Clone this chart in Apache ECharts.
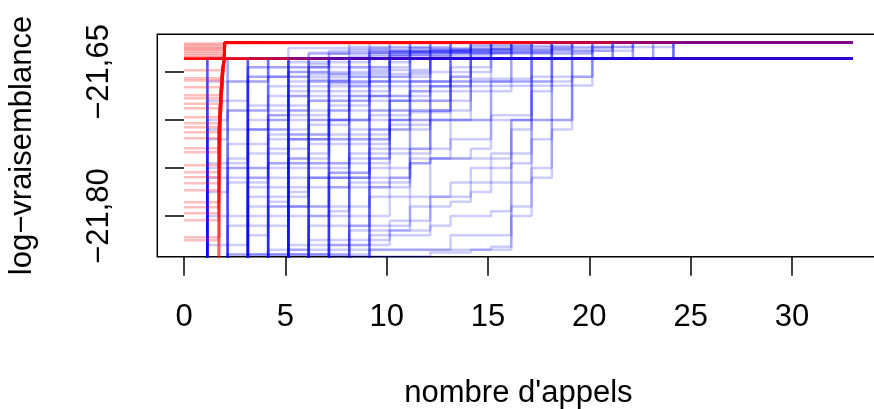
<!DOCTYPE html>
<html><head><meta charset="utf-8">
<script src="https://cdn.jsdelivr.net/npm/echarts@6/dist/echarts.min.js"></script>
<style>html,body{margin:0;padding:0;background:#fff}#c{width:874px;height:409px}</style>
</head><body><div id="c"></div>
<script>
// ---------- data ----------
const TOP = -21.6194;    // global optimum
const LOC = -21.6363;    // local optimum
const RSTUCK = -21.6363; // red runs that stay at the local optimum
const OFF = -22.5;       // starting value below the visible range
const lastCall = 33;
const stepShift = 0.15;
const xTickValues = [0, 5, 10, 15, 20, 25, 30];
const yTickValues = [-21.80, -21.75, -21.70, -21.65];
const yLabelValues = [-21.80, -21.65];

// red runs: [initial value, call where it leaves (null = stays), climbing path]
const S = [RSTUCK, null, null];
const redRuns = [
  S,[-21.6205,1.97,'A'],[-21.7293,1.77,'B'],[-21.6565,1.86,'A'],[-21.7855,1.76,'B'],
  [-21.6220,1.97,'A'],S,[-21.6971,1.80,'B'],[-21.9000,1.70,'A'],[-21.6742,1.85,'B'],
  [-21.8043,1.70,'A'],[-21.6240,1.99,'B'],S,[-21.7127,1.72,'A'],[-21.6482,1.93,'B'],
  [-21.7595,1.71,'A'],[-21.6255,1.99,'B'],[-21.6877,1.76,'A'],S,[-22.0000,1.76,'B'],
  [-21.7335,1.71,'A'],[-21.6659,1.88,'B'],[-21.6270,1.97,'A'],S,[-21.8220,1.76,'B'],
  [-21.7033,1.73,'A'],[-21.7470,1.77,'B'],[-21.6290,1.97,'A'],S,[-21.6773,1.84,'B'],
  [-21.7907,1.70,'A'],[-21.7190,1.78,'B'],S,[-22.1000,1.70,'A'],[-21.6310,1.99,'B'],
  [-21.7543,1.71,'A'],[-21.6590,1.90,'B'],S,[-21.7970,1.70,'A'],[-21.6330,1.99,'B'],
  [-21.7075,1.73,'A'],[-21.7658,1.76,'B'],S,[-21.8251,1.70,'A'],[-21.6350,1.99,'B'],
  [-21.6830,1.77,'A'],[-21.7731,1.76,'B'],[-22.3000,1.70,'A'],[-21.6362,1.99,'B']
];
// paths of the red runs climbing to the optimum
const redRisers = {
  A: [[1.70,-21.90],[1.72,-21.71],[1.80,-21.676],[1.89,-21.648],[1.97,-21.637],[2.00,TOP]],
  B: [[1.76,-21.90],[1.78,-21.71],[1.85,-21.676],[1.93,-21.648],[1.99,-21.637],[2.02,TOP]]
};

// blue runs: [call, best value] change points
const blueRuns = [
  [[1,LOC]],
  [[1,LOC],[14,-21.630],[20,TOP]],
  [[1,-21.66],[2,LOC],[9,TOP]],
  [[1,-21.70],[2,-21.66],[4,LOC],[11,TOP]],
  [[1,-21.745],[3,-21.69],[4,-21.655],[6,LOC],[15,TOP]],
  [[1,-21.80],[2,-21.75],[4,-21.70],[5,-21.64],[9,-21.628],[13,TOP]],
  [[1,-21.83],[3,-21.78],[6,-21.72],[7,-21.66],[8,LOC]],
  [[1,LOC],[5,-21.625],[8,TOP]],
  [[1,-21.68],[3,-21.645],[7,LOC],[16,TOP]],
  [[1,-21.72],[2,-21.69],[5,-21.65],[10,-21.632],[12,TOP]],
  [[1,LOC],[6,-21.631],[8,-21.626],[10,TOP]],
  [[1,LOC],[9,-21.63],[11,TOP]],
  [[1,-21.775],[2,-21.74],[3,-21.71],[5,-21.675],[6,-21.645],[7,LOC],[13,TOP]],
  [[1,-21.76],[4,-21.745],[10,-21.735],[12,-21.70],[13,-21.68],[14,-21.657],[17,LOC],[23,TOP]],
  [[1,-21.75],[5,-21.72],[10,-21.66],[12,LOC],[18,TOP]],
  [[1,-21.71],[6,-21.675],[12,-21.66],[17,-21.655],[20,LOC],[24,TOP]],
  [[2,-21.765],[4,-21.73],[6,-21.68],[8,LOC],[17,TOP]],
  [[2,LOC],[10,-21.633],[13,-21.627],[15,TOP]],
  [[2,-21.69],[3,-21.655],[9,LOC]],
  [[2,-21.725],[4,-21.695],[5,-21.66],[7,LOC],[15,TOP]],
  [[2,-21.84],[6,-21.80],[10,LOC],[19,TOP]],
  [[2,-21.81],[5,-21.79],[9,-21.75],[11,-21.69],[13,-21.65],[14,LOC]],
  [[2,-21.66],[4,-21.645],[6,LOC],[14,TOP]],
  [[2,-21.80],[5,-21.77],[10,-21.76],[11,-21.692],[13,-21.66],[15,LOC],[20,TOP]],
  [[2,-21.84],[8,-21.835],[15,-21.832],[16,-21.80],[17,-21.76],[18,-21.71],[19,LOC],[24,TOP]],
  [[3,LOC]],
  [[3,LOC],[7,-21.628],[15,TOP]],
  [[3,-21.655],[5,LOC],[10,-21.63],[13,TOP]],
  [[3,-21.71],[4,-21.675],[6,-21.645],[10,LOC]],
  [[3,-21.77],[5,-21.74],[7,-21.70],[9,-21.66],[11,LOC],[18,TOP]],
  [[3,-21.82],[4,-21.79],[7,-21.755],[9,-21.71],[11,-21.67],[12,LOC],[21,TOP]],
  [[3,-21.685],[6,-21.652],[8,LOC],[12,-21.627],[16,TOP]],
  [[3,LOC],[11,-21.625],[17,TOP]],
  [[3,-21.735],[5,-21.69],[6,-21.66],[9,LOC]],
  [[3,-21.76],[4,-21.715],[6,-21.69],[8,-21.66],[10,-21.64],[11,LOC]],
  [[3,-21.645],[4,LOC],[12,TOP]],
  [[3,LOC],[8,-21.634],[11,-21.629],[14,-21.623],[19,TOP]],
  [[3,LOC],[6,-21.63],[10,TOP]],
  [[3,-21.79],[6,-21.76],[11,-21.745],[12,-21.74],[14,-21.73],[15,-21.695],[17,LOC]],
  [[3,-21.84],[7,-21.83],[10,-21.815],[12,-21.78],[14,-21.775],[15,-21.74],[16,-21.70],[17,-21.66],[19,LOC]],
  [[3,-21.70],[8,-21.665],[13,-21.664],[19,-21.655],[20,LOC]],
  [[4,LOC],[7,-21.631],[9,-21.625],[12,TOP]],
  [[4,-21.665],[6,-21.642],[7,LOC],[14,TOP]],
  [[4,-21.72],[6,-21.70],[8,-21.655],[10,LOC],[15,-21.627],[19,TOP]],
  [[4,-21.785],[5,-21.75],[8,-21.715],[10,-21.68],[12,-21.65],[13,LOC]],
  [[4,LOC],[9,-21.63],[14,TOP]],
  [[4,-21.745],[6,-21.725],[7,-21.68],[9,-21.66],[10,LOC],[16,TOP]],
  [[4,-21.695],[7,-21.66],[8,LOC],[18,TOP]],
  [[4,-21.835],[8,-21.815],[11,-21.78],[12,-21.74],[15,-21.735],[16,-21.70],[17,-21.66],[18,LOC]],
  [[4,-21.76],[9,-21.73],[13,-21.72],[15,-21.66],[17,LOC],[21,TOP]],
  [[5,LOC]],
  [[5,LOC],[13,-21.628],[21,TOP]],
  [[5,-21.65],[7,LOC],[11,TOP]],
  [[5,-21.69],[6,-21.665],[9,LOC]],
  [[5,-21.74],[6,-21.715],[8,-21.68],[11,-21.648],[12,LOC],[20,TOP]],
  [[5,-21.80],[7,-21.77],[8,-21.735],[10,-21.70],[12,-21.665],[14,LOC]],
  [[5,-21.775],[6,-21.745],[8,-21.71],[9,-21.69],[11,-21.66],[13,LOC]],
  [[5,-21.835],[6,-21.81],[9,-21.78],[11,-21.74],[13,-21.70],[15,-21.66],[16,LOC],[22,TOP]],
  [[5,LOC],[8,-21.624],[13,TOP]],
  [[5,-21.67],[8,-21.645],[10,LOC],[17,TOP]],
  [[5,-21.715],[7,-21.685],[9,-21.655],[11,LOC],[20,TOP]],
  [[5,LOC],[9,-21.632],[12,-21.630],[16,-21.624],[22,TOP]],
  [[5,LOC],[11,-21.63],[14,TOP]],
  [[5,-21.83],[9,-21.82],[12,-21.81],[13,-21.80],[15,-21.795],[16,-21.765],[17,-21.72],[18,LOC],[24,TOP]],
  [[5,-21.72],[10,-21.70],[19,LOC]],
  [[6,LOC],[10,-21.628],[14,-21.622],[17,TOP]],
  [[6,-21.658],[8,LOC],[15,TOP]],
  [[6,-21.705],[8,-21.67],[10,-21.645],[11,LOC]],
  [[6,-21.76],[9,-21.725],[10,-21.69],[13,-21.655],[14,LOC],[19,TOP]],
  [[6,-21.735],[7,-21.70],[9,-21.675],[11,-21.65],[12,LOC],[18,TOP]],
  [[6,LOC],[12,-21.626],[16,TOP]],
  [[6,-21.68],[7,-21.652],[12,LOC]],
  [[6,-21.825],[10,-21.805],[11,-21.79],[13,-21.785],[14,-21.75],[16,-21.71],[17,-21.67],[18,LOC],[24,TOP]],
  [[6,-21.84],[9,-21.835],[13,-21.82],[16,-21.745],[17,LOC],[22,TOP]],
  [[7,LOC],[12,-21.633],[15,-21.626],[19,TOP]],
  [[7,-21.662],[9,LOC]],
  [[7,-21.725],[9,-21.695],[11,-21.66],[13,LOC],[18,TOP]],
  [[7,-21.795],[8,-21.765],[11,-21.73],[12,-21.69],[14,-21.65],[15,LOC]],
  [[7,-21.755],[9,-21.74],[10,-21.71],[12,-21.68],[13,-21.655],[14,LOC]],
  [[7,LOC],[10,-21.629],[18,TOP]],
  [[7,-21.69],[10,-21.655],[12,LOC],[16,TOP]],
  [[7,-21.842],[12,-21.838],[14,-21.835],[16,-21.79],[17,-21.75],[18,LOC]],
  [[8,LOC],[13,-21.630],[18,-21.625],[21,TOP]],
  [[8,-21.675],[10,LOC]],
  [[8,-21.74],[10,-21.705],[12,-21.665],[13,LOC],[19,-21.628],[22,TOP]],
  [[8,-21.81],[11,-21.805],[12,-21.78],[13,-21.765],[16,-21.735],[17,-21.70],[19,-21.664],[20,LOC],[23,TOP]],
  [[8,-21.70],[11,-21.67],[14,LOC]],
  [[9,LOC],[14,-21.631],[20,-21.624],[24,TOP]],
  [[9,-21.648],[11,LOC],[17,TOP]],
  [[9,-21.71],[10,-21.68],[13,-21.645],[15,LOC]],
  [[9,-21.77],[11,-21.745],[12,-21.70],[14,-21.67],[16,LOC],[21,TOP]]
];

// ---------- build ----------
const FONT = "'Liberation Sans', Arial, Helvetica, sans-serif";
const LW = 2.5;

function redSeries(run) {
  const v0 = run[0], lx = run[1];
  let data;
  if (lx === null) {
    data = [[0, v0], [lastCall, v0]];
  } else {
    data = [[0, v0], [lx, v0]];
    redRisers[run[2]].forEach(p => { if (p[1] > v0 && p[0] >= lx) data.push(p); });
    data.push([lastCall, TOP]);
  }
  return {type:'line', data, symbol:'none', silent:true, clip:true, z:2,
    lineStyle:{color:'rgb(255,0,0)', width:LW, opacity:0.25}};
}
function blueSeries(run) {
  const data = [[0, OFF]];
  run.forEach(p => data.push([p[0] + stepShift, p[1]]));
  data.push([lastCall, run[run.length - 1][1]]);
  return {type:'line', step:'end', data, symbol:'none', silent:true, clip:true, z:2,
    lineStyle:{color:'rgb(0,0,255)', width:LW, opacity:0.2}};
}
const ordered = [];
blueRuns.forEach((r, i) => ordered.push({k:(i + 0.5) / blueRuns.length, s:blueSeries(r)}));
redRuns.forEach((r, i) => ordered.push({k:(i + 0.5) / redRuns.length, s:redSeries(r)}));
ordered.sort((a, b) => a.k - b.k);
const series = ordered.map(o => o.s);

const fmtY = v => '\u2212' + Math.abs(v).toFixed(2).replace('.', ',');

const chart = echarts.init(document.getElementById('c'));
chart.setOption({
  animation:false,
  grid:{left:157.3, top:34.3, width:722.2, height:222.4, show:true, containLabel:false,
        outerBoundsMode:'none',
        borderColor:'#000', borderWidth:1.5, backgroundColor:'rgba(0,0,0,0)'},
  xAxis:{type:'value', min:-1.32, max:34.32,
    name:"nombre d'appels", nameLocation:'middle', nameGap:121,
    nameTextStyle:{fontSize:31, color:'#000', fontFamily:FONT},
    axisLine:{show:false},
    axisTick:{show:true, customValues:xTickValues, length:19, lineStyle:{color:'#000', width:1.5}},
    axisLabel:{show:true, customValues:xTickValues, fontSize:31, color:'#000', margin:45, fontFamily:FONT},
    splitLine:{show:false}},
  yAxis:{type:'value', min:-21.8423, max:-21.6108,
    name:'log\u2212vraisemblance', nameLocation:'middle', nameGap:119, nameRotate:90,
    nameTextStyle:{fontSize:31, color:'#000', fontFamily:FONT},
    axisLine:{show:false},
    axisTick:{show:true, customValues:yTickValues, length:19, lineStyle:{color:'#000', width:1.5}},
    axisLabel:{show:true, customValues:yLabelValues, rotate:90, fontSize:31, color:'#000', margin:42,
      fontFamily:FONT, formatter:fmtY},
    splitLine:{show:false}},
  series
});
</script></body></html>
